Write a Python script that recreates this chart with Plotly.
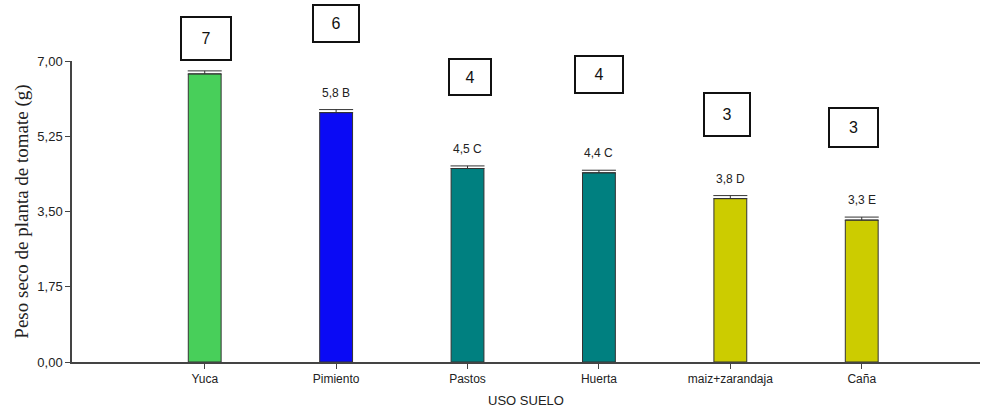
import plotly.graph_objects as go

# Data
categories = ["Yuca", "Pimiento", "Pastos", "Huerta", "maiz+zarandaja", "Caña"]
peso_seco = [6.7, 5.8, 4.5, 4.4, 3.8, 3.3]
error_est = [0.07, 0.07, 0.06, 0.06, 0.07, 0.07]
etiquetas = ["", "5,8 B", "4,5 C", "4,4 C", "3,8 D", "3,3 E"]
rangos = ["7", "6", "4", "4", "3", "3"]
y_ticks = [0, 1.75, 3.5, 5.25, 7.0]
y_ticktext = ["0,00", "1,75", "3,50", "5,25", "7,00"]

colores = ["#48CF5A", "#0A0AF5", "#008080", "#008080", "#CCCC00", "#CCCC00"]

# rank boxes: vertical centre (pixels from top of page), horizontal nudge and size
box_cy_px = [38, 24, 77, 75, 114, 127]
box_dx_px = [1, 0, 2, 0, -3, -8]
box_w = [48, 44, 40, 46, 44, 47]
box_h = [41, 35, 34, 35, 41, 37]

W, H = 984, 412
M_T, M_B, M_L, M_R = 61, 50, 72, 4
plot_h = H - M_T - M_B

x_idx = list(range(len(categories)))

fig = go.Figure()
fig.add_trace(go.Bar(
    x=x_idx,
    y=peso_seco,
    width=0.25,
    marker=dict(color=colores, line=dict(color="#333333", width=1)),
    # only the upper whisker is drawn
    error_y=dict(type="data", array=error_est, arrayminus=[0] * len(error_est),
                 symmetric=False, visible=True,
                 color="#333333", thickness=1, width=17),
    showlegend=False,
    hoverinfo="skip",
))

annotations = []
# significance labels above bars
for i, (v, e, t) in enumerate(zip(peso_seco, error_est, etiquetas)):
    if t:
        annotations.append(dict(
            x=i, y=v + e, xref="x", yref="y", text=t, showarrow=False,
            xanchor="center", yanchor="bottom", yshift=8,
            font=dict(family="Liberation Sans, Arial", size=12, color="#222222"),
        ))

# rank boxes
for i, r in enumerate(rangos):
    yc = (H - M_B - box_cy_px[i]) / plot_h
    annotations.append(dict(
        x=i, y=yc, xref="x", yref="paper", text=r, showarrow=False,
        xanchor="center", yanchor="middle",
        xshift=box_dx_px[i], width=box_w[i], height=box_h[i],
        align="center", valign="middle",
        bordercolor="#111111", borderwidth=2, bgcolor="white", borderpad=0,
        font=dict(family="Liberation Sans, Arial", size=16, color="#111111"),
    ))

fig.update_layout(
    width=W, height=H,
    margin=dict(l=M_L, r=M_R, t=M_T, b=M_B),
    plot_bgcolor="white", paper_bgcolor="white",
    annotations=annotations,
    xaxis=dict(
        range=[-1.01, 5.9],
        tickvals=x_idx, ticktext=categories,
        ticks="outside", ticklen=5, tickcolor="#444444",
        showline=True, linecolor="#444444", linewidth=1.5,
        showgrid=False, zeroline=False,
        tickfont=dict(family="Liberation Sans, Arial", size=12, color="#222222"),
        title=dict(text="USO SUELO", standoff=11,
                   font=dict(family="Liberation Sans, Arial", size=13, color="#222222")),
    ),
    yaxis=dict(
        range=[0, 7.0],
        tickvals=y_ticks, ticktext=y_ticktext,
        ticks="outside", ticklen=5, tickcolor="#444444",
        showline=True, linecolor="#444444", linewidth=1.5,
        showgrid=False, zeroline=False,
        tickfont=dict(family="Liberation Sans, Arial", size=13, color="#222222"),
        title=dict(text="Peso seco de planta de tomate (g)", standoff=4,
                   font=dict(family="Liberation Serif, Times New Roman", size=19, color="#222222")),
    ),
)

fig.write_html("out.html")
